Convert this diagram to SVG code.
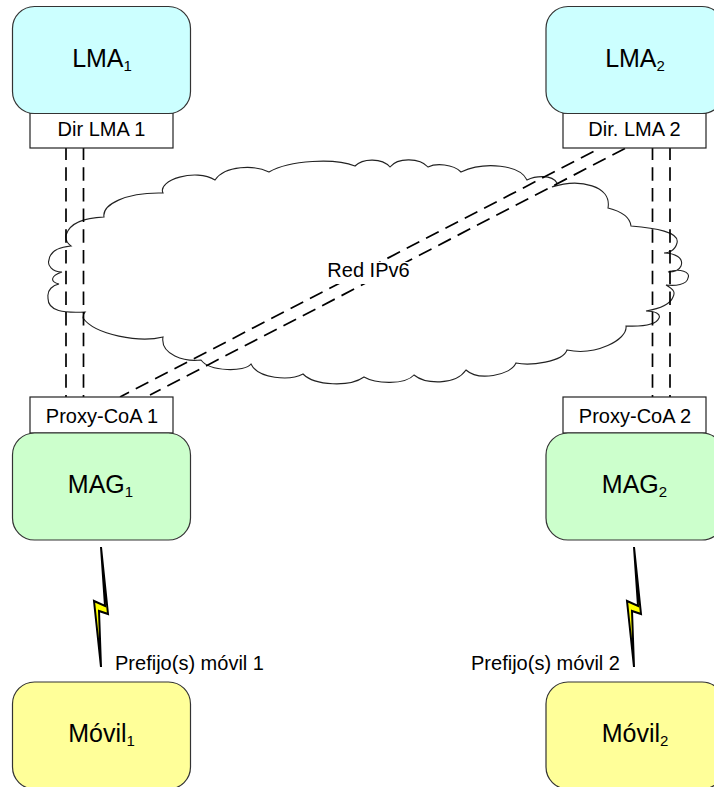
<svg xmlns="http://www.w3.org/2000/svg" width="714" height="787" viewBox="0 0 714 787">
<style>
text{font-family:"Liberation Sans",Arial,sans-serif;fill:#000;text-anchor:middle}
.n{font-size:25px}.s{font-size:20px}.l{font-size:20px}
.sub{font-size:15px}
.box{stroke:#333;stroke-width:1.200}
.lma{fill:#ccffff}.mag{fill:#ccffcc}.mov{fill:#ffff99}
.lab{fill:#fff;stroke:#222;stroke-width:1.200}
.dash{fill:none;stroke:#000;stroke-width:1.700;stroke-dasharray:13.500 7.200}
.diag{fill:none;stroke:#000;stroke-width:1.700;stroke-dasharray:14.200 7.600}
.bolt{fill:#ffff00;stroke:#000;stroke-width:2}
.cloud{fill:#fff;stroke:#222;stroke-width:1.100}
</style>
<rect width="714" height="787" fill="#fff"/>
<g id="cloud"><path class="cloud" d="M66 235C70 222 85 218 104 217C102 205 125 192 163 193C157 180 196 168 215 180C225 165 255 165 269 172C290 160 335 158 355 166C363 158 382 158 390 167C398 157 420 158 428 167C436 163 453 164 461 172C485 161 520 165 527 180C535 176 552 174 557 183C557 185 554 186 552 187C580 178 612 186 608 208C620 211 630 217 631 226C655 228 680 232 677 243C675 251 668 253 664 253C675 253 684 258 681 266C679 271 672 272 668 272C680 268 691 272 688 278C687 285 675 286 666 285C675 290 675 293 673 297C670 305 658 309 646 311C655 311 661 314 659 318C657 323 650 327 626 326C628 340 595 356 567 350C563 362 530 366 516 363C510 376 478 381 466 370C455 386 425 384 414 375C405 385 376 384 364 377C350 387 315 386 303 374C290 381 258 379 251 364C245 372 210 372 201 360C185 362 160 355 163 337C140 343 95 335 83 318C83 315 84 313 85 312C65 313 47 312 48 297C47 290 53 285 59 284C50 282 50 276 62 272C52 272 47 265 49 260C50 251 60 247 71 246C67 243 65 240 66 235Z"/></g>
<g id="connectors">
<path class="dash" stroke-dashoffset="1.500" d="M66 148V397M83.500 148V397M652.500 148V397M670 148V397"/>
<path class="diag" d="M593.500 151.500L120 397M625 148.500L150 395"/>
</g>
<g id="red-ipv6"><rect x="325" y="262" width="87" height="22" fill="#fff"/><text class="l" x="368.500" y="277">Red IPv6</text></g>
<g id="dir-lma-1"><rect class="lab" x="30" y="113" width="143" height="35"/><text class="s" x="101.500" y="136">Dir LMA 1</text></g>
<g id="dir-lma-2"><rect class="lab" x="563" y="113" width="143" height="35"/><text class="s" x="634.500" y="136">Dir. LMA 2</text></g>
<g id="proxy-coa-1"><rect class="lab" x="30" y="397" width="143" height="36"/><text class="s" x="102" y="423">Proxy-CoA 1</text></g>
<g id="proxy-coa-2"><rect class="lab" x="563" y="397" width="143" height="36"/><text class="s" x="635" y="423">Proxy-CoA 2</text></g>
<g id="lma-1"><rect class="box lma" x="12.500" y="6.500" width="178" height="107" rx="22"/><text class="n" x="102" y="67">LMA<tspan class="sub" dy="3.500">1</tspan></text></g>
<g id="lma-2"><rect class="box lma" x="546" y="6.500" width="178" height="107" rx="22"/><text class="n" x="635" y="67">LMA<tspan class="sub" dy="3.500">2</tspan></text></g>
<g id="mag-1"><rect class="box mag" x="12.500" y="433" width="178" height="107" rx="22"/><text class="n" x="100.500" y="493">MAG<tspan class="sub" dy="3.500">1</tspan></text></g>
<g id="mag-2"><rect class="box mag" x="546" y="433" width="178" height="107" rx="22"/><text class="n" x="634.500" y="493">MAG<tspan class="sub" dy="3.500">2</tspan></text></g>
<g id="movil-1"><rect class="box mov" x="12.500" y="682" width="178" height="107" rx="22"/><text class="n" x="101.500" y="742">Móvil<tspan class="sub" dy="3.500">1</tspan></text></g>
<g id="movil-2"><rect class="box mov" x="546" y="682" width="178" height="107" rx="22"/><text class="n" x="635" y="742">Móvil<tspan class="sub" dy="3.500">2</tspan></text></g>
<g id="bolt-1"><polygon class="bolt" points="101,547 108,614 99,611 101,667 94,601 105,606"/></g>
<g id="bolt-2"><polygon class="bolt" points="634,547 641,614 632,611 634,667 627,601 638,606"/></g>
<g id="prefijo-1"><text class="l" x="189.500" y="669.500">Prefijo(s) móvil 1</text></g>
<g id="prefijo-2"><text class="l" x="545.500" y="669.500">Prefijo(s) móvil 2</text></g>
</svg>
